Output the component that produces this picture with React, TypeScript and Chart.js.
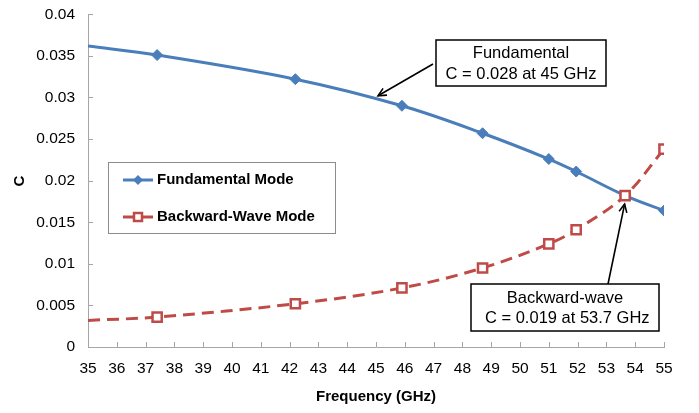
import React, { useEffect, useRef } from "react";
import { Chart, registerables } from "chart.js";

Chart.register(...registerables);

const frequencies = [35, 37.4, 42.2, 45.9, 48.7, 51.0, 51.95, 53.65, 55];
const fundamentalMode = [0.0362, 0.0351, 0.0322, 0.029, 0.0257, 0.0226, 0.0211, 0.0182, 0.0164];
const backwardWaveMode = [0.0032, 0.0036, 0.0052, 0.0071, 0.0095, 0.0124, 0.0141, 0.0182, 0.0238];
const pointRadii = [0, 1, 1, 1, 1, 1, 1, 1, 1];

const xTicks = { min: 35, max: 55, step: 1 };
const yTicks = { min: 0, max: 0.04, step: 0.005 };

const seriesNames = ["Fundamental Mode", "Backward-Wave Mode"];
const xTitle = "Frequency (GHz)";
const yTitle = "C";
const fundamentalNote = ["Fundamental", "C = 0.028 at 45 GHz"];
const backwardNote = ["Backward-wave", " C = 0.019 at 53.7 GHz"];
const fundamentalArrowTip = { x: 45.07, y: 0.0302 };
const backwardArrowTip = { x: 53.65, y: 0.0173 };

const BLUE = "#4A7EBB";
const RED = "#BE4B48";
const AXIS = "#A6A6A6";
const FONT = "'Liberation Sans', Arial, sans-serif";

function drawArrow(ctx: CanvasRenderingContext2D, x1: number, y1: number, x2: number, y2: number) {
  ctx.save();
  ctx.strokeStyle = "#000";
  ctx.lineWidth = 1.6;
  ctx.beginPath();
  ctx.moveTo(x1, y1);
  ctx.lineTo(x2, y2);
  ctx.stroke();
  const a = Math.atan2(y2 - y1, x2 - x1);
  const L = 9;
  ctx.beginPath();
  ctx.moveTo(x2 - L * Math.cos(a - 0.45), y2 - L * Math.sin(a - 0.45));
  ctx.lineTo(x2, y2);
  ctx.lineTo(x2 - L * Math.cos(a + 0.45), y2 - L * Math.sin(a + 0.45));
  ctx.stroke();
  ctx.restore();
}

function drawNote(ctx: CanvasRenderingContext2D, lines: string[], x0: number, y0: number, x1: number, y1: number, lineYs: number[]) {
  ctx.save();
  ctx.fillStyle = "#fff";
  ctx.fillRect(x0, y0, x1 - x0, y1 - y0);
  ctx.strokeStyle = "#000";
  ctx.lineWidth = 1.5;
  ctx.strokeRect(x0, y0, x1 - x0, y1 - y0);
  ctx.fillStyle = "#000";
  ctx.font = `16.5px ${FONT}`;
  ctx.textAlign = "center";
  ctx.textBaseline = "middle";
  lines.forEach((t, i) => ctx.fillText(t, (x0 + x1) / 2, lineYs[i]));
  ctx.restore();
}

const overlayPlugin = {
  id: "overlay",
  afterDraw(chart: any) {
    const ctx: CanvasRenderingContext2D = chart.ctx;
    const xs = chart.scales.x;
    const ys = chart.scales.y;
    const area = chart.chartArea;
    ctx.save();
    // inside tick marks
    ctx.strokeStyle = AXIS;
    ctx.lineWidth = 1;
    ctx.beginPath();
    for (let v = xTicks.min; v <= xTicks.max; v += xTicks.step) {
      const px = Math.round(xs.getPixelForValue(v)) + 0.5;
      ctx.moveTo(px, area.bottom);
      ctx.lineTo(px, area.bottom - 5);
    }
    for (let i = 0; i <= Math.round((yTicks.max - yTicks.min) / yTicks.step); i++) {
      const py = Math.round(ys.getPixelForValue(yTicks.min + i * yTicks.step)) + 0.5;
      ctx.moveTo(area.left, py);
      ctx.lineTo(area.left + 5, py);
    }
    ctx.stroke();

    // axis titles
    ctx.fillStyle = "#000";
    ctx.font = `bold 15px ${FONT}`;
    ctx.textAlign = "center";
    ctx.textBaseline = "middle";
    ctx.fillText(xTitle, (area.left + area.right) / 2, 397);
    ctx.save();
    ctx.translate(20, 181);
    ctx.rotate(-Math.PI / 2);
    ctx.fillText(yTitle, 0, 0);
    ctx.restore();

    // legend
    ctx.fillStyle = "#fff";
    ctx.fillRect(108, 162, 227, 71);
    ctx.strokeStyle = "#8C8C8C";
    ctx.lineWidth = 1;
    ctx.strokeRect(108.5, 162.5, 227, 71);
    const rows = [180, 217];
    ctx.strokeStyle = BLUE;
    ctx.lineWidth = 3;
    ctx.beginPath();
    ctx.moveTo(123, rows[0]);
    ctx.lineTo(153, rows[0]);
    ctx.stroke();
    ctx.fillStyle = BLUE;
    ctx.beginPath();
    ctx.moveTo(138 - 5, rows[0]);
    ctx.lineTo(138, rows[0] - 5);
    ctx.lineTo(138 + 5, rows[0]);
    ctx.lineTo(138, rows[0] + 5);
    ctx.closePath();
    ctx.fill();
    ctx.strokeStyle = RED;
    ctx.lineWidth = 3;
    ctx.beginPath();
    ctx.moveTo(123, rows[1]);
    ctx.lineTo(153, rows[1]);
    ctx.stroke();
    ctx.fillStyle = "#fff";
    ctx.fillRect(134, rows[1] - 4, 8, 8);
    ctx.lineWidth = 2.5;
    ctx.strokeRect(134, rows[1] - 4, 8, 8);
    ctx.fillStyle = "#000";
    ctx.font = `bold 15px ${FONT}`;
    ctx.textAlign = "left";
    ctx.textBaseline = "middle";
    ctx.fillText(seriesNames[0], 157, rows[0]);
    ctx.fillText(seriesNames[1], 157, rows[1]);

    // annotations
    drawArrow(ctx, 433, 64, xs.getPixelForValue(fundamentalArrowTip.x), ys.getPixelForValue(fundamentalArrowTip.y));
    drawNote(ctx, fundamentalNote, 436, 40, 606, 86, [53, 74]);
    drawArrow(ctx, 608, 284, xs.getPixelForValue(backwardArrowTip.x) - 0.5, ys.getPixelForValue(backwardArrowTip.y) + 1);
    drawNote(ctx, backwardNote, 471, 284, 659, 331, [298, 318]);
    ctx.restore();
  },
};

export default function App() {
  const canvasRef = useRef<HTMLCanvasElement | null>(null);

  useEffect(() => {
    const canvas = canvasRef.current;
    if (!canvas) return;
    const toPoints = (ys: number[]) => frequencies.map((x, i) => ({ x, y: ys[i] }));
    const chart = new Chart(canvas, {
      type: "scatter",
      data: {
        datasets: [
          {
            label: seriesNames[0],
            data: toPoints(fundamentalMode),
            showLine: true,
            borderColor: BLUE,
            backgroundColor: BLUE,
            borderWidth: 3,
            tension: 0.35,
            pointStyle: "rectRot",
            pointRadius: pointRadii.map((r) => r * 5.5),
            pointBorderWidth: 1,
            pointBackgroundColor: BLUE,
            pointBorderColor: BLUE,
            order: 1,
          },
          {
            label: seriesNames[1],
            data: toPoints(backwardWaveMode),
            showLine: true,
            borderColor: RED,
            backgroundColor: "#fff",
            borderWidth: 3,
            borderDash: [12, 7],
            tension: 0.35,
            pointStyle: "rect",
            pointRadius: pointRadii.map((r) => r * 6.5),
            pointBorderWidth: 2.5,
            pointBackgroundColor: "#fff",
            pointBorderColor: RED,
            order: 0,
          },
        ],
      },
      options: {
        animation: false,
        responsive: false,
        maintainAspectRatio: false,
        layout: { padding: { left: 0, right: 35, top: 5, bottom: 0 } },
        plugins: {
          legend: { display: false },
          tooltip: { enabled: false },
        },
        scales: {
          x: {
            type: "linear",
            min: xTicks.min,
            max: xTicks.max,
            grid: { display: false },
            border: { display: true, color: AXIS, width: 1 },
            ticks: {
              stepSize: xTicks.step,
              autoSkip: false,
              maxRotation: 0,
              padding: 4,
              color: "#000",
              font: { family: FONT, size: 15.5 },
              callback: (v: any) => String(v),
            },
            afterFit: (s: any) => {
              s.height = 66;
            },
          },
          y: {
            type: "linear",
            min: yTicks.min,
            max: yTicks.max,
            grid: { display: false },
            border: { display: true, color: AXIS, width: 1 },
            ticks: {
              stepSize: yTicks.step,
              padding: 5,
              color: "#000",
              font: { family: FONT, size: 15.5 },
              callback: (v: any) => String(+Number(v).toFixed(3)),
            },
            afterFit: (s: any) => {
              s.width = 88;
            },
          },
        },
      },
      plugins: [overlayPlugin],
    });
    return () => chart.destroy();
  }, []);

  return (
    <div style={{ position: "absolute", left: 0, top: 0, width: 699, height: 413, background: "#fff" }}>
      <canvas ref={canvasRef} width={699} height={413} style={{ display: "block" }} />
    </div>
  );
}
